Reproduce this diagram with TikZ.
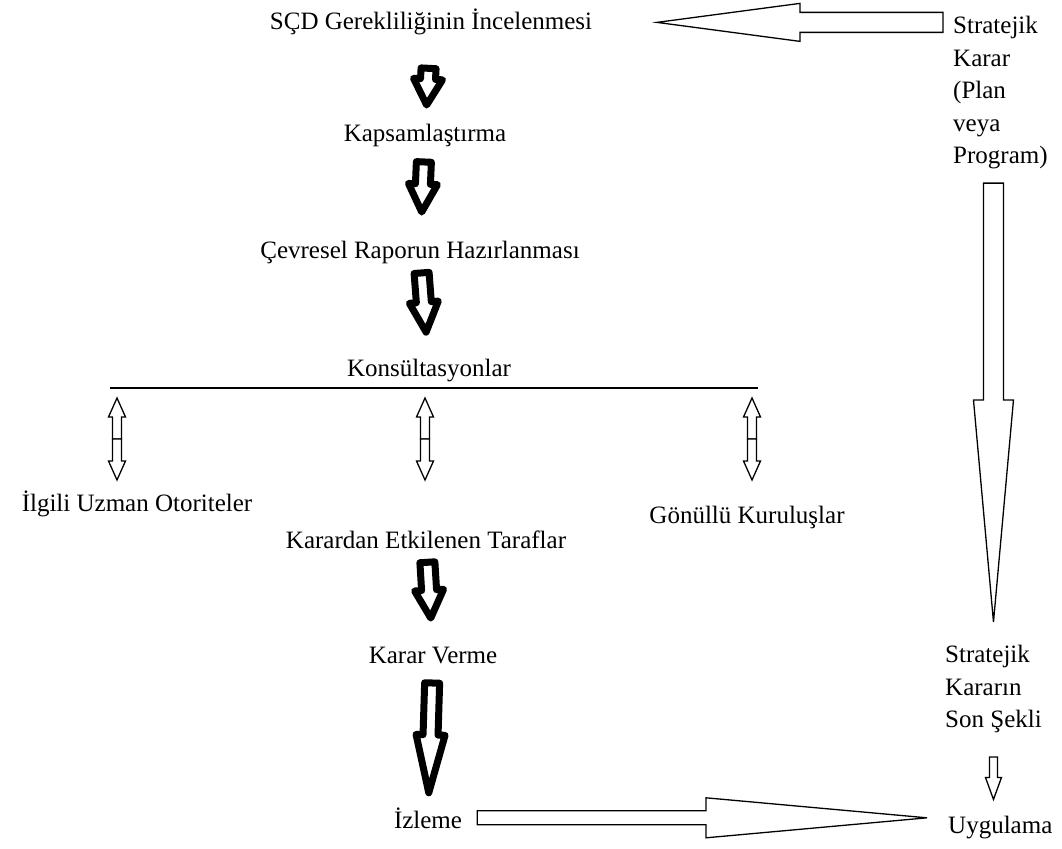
\documentclass[tikz,border=0pt]{standalone}
\usepackage{fontspec}
\setmainfont{Liberation Serif}
\usetikzlibrary{calc}

% block arrow: [style]{from}{to}{start gap}{end gap}{half shaft}{half head}{head length}
\newcommand{\blockarrow}[8][]{%
	\coordinate (ba-a) at ($(#2)!#4pt!(#3)$);
	\coordinate (ba-b) at ($(#3)!#5pt!(#2)$);
	\coordinate (ba-h) at ($(ba-b)!#8pt!(ba-a)$);
	\draw[#1] ($(ba-a)!#6pt!90:(ba-b)$) -- ($(ba-h)!#6pt!-90:(ba-a)$)
	-- ($(ba-h)!#7pt!-90:(ba-a)$) -- (ba-b) -- ($(ba-h)!#7pt!90:(ba-a)$)
	-- ($(ba-h)!#6pt!90:(ba-a)$) -- ($(ba-a)!#6pt!-90:(ba-b)$) -- cycle;
}
% two thin arrows pointing away from the middle
\newcommand{\dblarrow}[2]{%
	\coordinate (da-m) at ($(#1)!.5!(#2)$);
	\blockarrow[thinarr]{da-m}{#1}{0}{0}{4.5}{8.5}{19}
	\blockarrow[thinarr]{da-m}{#2}{0}{0}{4.5}{8.5}{19}
}

\begin{document}
\begin{tikzpicture}[x=1pt, y=-1pt,
	font=\rmfamily\fontsize{25}{32.5}\selectfont,
	lbl/.style={anchor=base, inner sep=0pt},
	multi/.style={anchor=north west, align=left, inner sep=0pt},
	thickarr/.style={line width=7pt, line join=round, fill=white},
	thinarr/.style={line width=1.3pt, fill=white}]

	\useasboundingbox (0,0) rectangle (1062,848);

	% main chain
	\node[lbl] (sced) at (431,30) {SÇD Gerekliliğinin İncelenmesi};
	\node[lbl] (kaps) at (425,142) {Kapsamlaştırma};
	\node[lbl] (cevr) at (420,258) {Çevresel Raporun Hazırlanması};
	\node[lbl] (kons) at (429,376) {Konsültasyonlar};

	% consulted parties
	\node[lbl] (ilgili) at (137,511) {İlgili Uzman Otoriteler};
	\node[lbl] (karardan) at (426,548) {Karardan Etkilenen Taraflar};
	\node[lbl] (gonullu) at (747,523) {Gönüllü Kuruluşlar};

	\node[lbl] (kararv) at (433,663) {Karar Verme};
	\node[lbl] (izleme) at (428,828) {İzleme};

	% right column
	\node[multi] (strat) at (953,16) {Stratejik\\Karar\\(Plan\\veya\\Program)};
	\node[multi] (sonsekil) at (945,645) {Stratejik\\Kararın\\Son Şekli};
	\node[lbl, anchor=base west] (uyg) at (948,833) {Uygulama};

	% thick arrows
	\blockarrow[thickarr]{sced}{kaps}{46}{31}{7.5}{14.5}{26}
	\blockarrow[thickarr]{kaps}{cevr}{26}{40}{7.5}{14.5}{28}
	\blockarrow[thickarr]{cevr}{kons}{21}{38}{7.5}{14.5}{30}
	\blockarrow[thickarr]{karardan}{kararv}{23}{37}{7.5}{14.5}{28}
	\blockarrow[thickarr]{kararv}{izleme}{28}{25}{7.5}{14.5}{58}

	% consultation line and double arrows
	\coordinate (kons-l) at (110,388);
	\coordinate (kons-r) at (758,388);
	\draw[line width=1.5pt] (kons-l) -- (kons-r);

	\coordinate (ilgili-t) at (117,398);
	\coordinate (ilgili-b) at (117,480);
	\coordinate (karardan-t) at (425,398);
	\coordinate (karardan-b) at (425,480);
	\coordinate (gonullu-t) at (752,398);
	\coordinate (gonullu-b) at (752,480);
	\dblarrow{ilgili-t}{ilgili-b}
	\dblarrow{karardan-t}{karardan-b}
	\dblarrow{gonullu-t}{gonullu-b}

	% long open arrows
	\coordinate (sa) at (strat.west |- sced.center);
	\blockarrow[thinarr]{sa}{sced}{10}{226}{10}{19}{143}

	\coordinate (rv) at (sonsekil.north |- strat.south);
	\blockarrow[thinarr]{rv}{sonsekil.north}{14}{23}{10}{20}{222}

	\coordinate (us) at (sonsekil.south |- uyg.north);
	\blockarrow[thinarr]{sonsekil.south}{us}{24}{16}{4}{8}{22}

	\coordinate (ue) at (uyg.west |- izleme.east);
	\blockarrow[thinarr]{izleme.east}{ue}{15}{21}{7}{20}{221}

\end{tikzpicture}
\end{document}
